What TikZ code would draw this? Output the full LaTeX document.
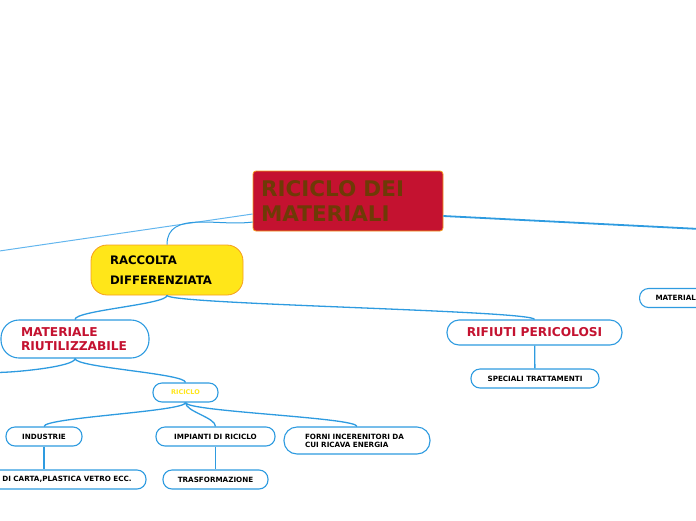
\documentclass[tikz,border=0pt]{standalone}
\usepackage{fontspec}
\setmainfont{DejaVu Sans}
\definecolor{mmred}{HTML}{C41230}
\definecolor{mmbrown}{HTML}{6E3A06}
\definecolor{mmorange}{HTML}{F59E1E}
\definecolor{mmyellow}{HTML}{FFE619}
\definecolor{mmblue}{HTML}{2E9BE0}
\definecolor{mmlight}{HTML}{63B6EE}

\begin{document}
\begin{tikzpicture}[x=1pt,y=1pt,
  topic/.style={draw=mmblue, line width=1.1pt, fill=white, rounded corners=9pt,
    inner sep=0pt, minimum height=19pt, font=\bfseries\fontsize{7.2}{8}\selectfont},
  bigtopic/.style={topic, rounded corners=12pt, minimum height=25pt,
    text=mmred, font=\bfseries\fontsize{12.2}{14.5}\selectfont},
  link/.style={draw=mmblue, line width=1.3pt},
  branch/.style={link, to path={.. controls +(0,-9) and +(0,9) .. (\tikztotarget)}}]
\useasboundingbox (0,0) rectangle (696,-520);
\clip (0,0) rectangle (696,-520);

% main topic
\node[draw=mmorange, line width=0.8pt, fill=mmred, rounded corners=3pt,
  minimum width=190, minimum height=60, inner xsep=8, text width=174, align=left,
  text=mmbrown, font=\bfseries\fontsize{21.5}{24.5}\selectfont]
  (root) at (348,-201) {RICICLO DEI\\MATERIALI};

% first level
\node[draw=mmorange, line width=0.8pt, fill=mmyellow, rounded corners=16pt,
  minimum width=152, minimum height=50, inner xsep=19, text width=114, align=left,
  font=\bfseries\fontsize{11.7}{20}\selectfont]
  (racc) at (167,-270) {RACCOLTA\\DIFFERENZIATA};
\node[topic, anchor=west, inner xsep=16, text width=60, align=left]
  (matr) at (639,-298) {MATERIAL};

% second level
\node[bigtopic, rounded corners=18pt, minimum width=148, minimum height=38,
  inner xsep=20, text width=108, align=left]
  (riut) at (75,-339) {MATERIALE\\RIUTILIZZABILE};
\node[bigtopic, minimum width=175] (peric) at (534.5,-332.5) {RIFIUTI PERICOLOSI};

% third level
\node[topic, minimum width=128] (spec) at (535,-378.5) {SPECIALI TRATTAMENTI};
\node[topic, minimum width=65, text=mmyellow, font=\bfseries\fontsize{6.5}{8}\selectfont]
  (ricic) at (185.5,-392.5) {RICICLO};
\node[topic, minimum width=76] (indu) at (44,-436.5) {INDUSTRIE};
\node[topic, minimum width=119] (impi) at (215.5,-436.5) {IMPIANTI DI RICICLO};
\node[topic, rounded corners=13pt, minimum width=146, minimum height=27,
  inner xsep=21, text width=104, align=left]
  (forni) at (357,-440.5) {FORNI INCERENITORI DA\\CUI RICAVA ENERGIA};
\node[topic, minimum width=158] (carta) at (67,-479.5) {DI CARTA,PLASTICA VETRO ECC.};
\node[topic, minimum width=105] (trasf) at (215.5,-479.5) {TRASFORMAZIONE};

% loose ends
\coordinate (offleft) at (-4,-251.5);
\coordinate (offright) at (700,-229);
\coordinate (offriut) at (-4,-372.5);

% connectors
\draw[mmlight, line width=1pt] ([yshift=-13]root.west) -- (offleft);
\draw[link, line width=1.8pt] ([yshift=-15]root.east) -- (offright);
\draw[link, line width=1pt] ([yshift=-21]root.west) to[out=188,in=90] (racc.north);
\draw[branch] (racc.south) to (riut.north);
\draw[branch] (racc.south) to (peric.north);
\draw[link] (riut.south) .. controls +(0,-8) and +(20,0) .. (offriut);
\draw[branch] (riut.south) to (ricic.north);
\draw[branch] (ricic.south) to (indu.north);
\draw[branch] (ricic.south) to (impi.north);
\draw[branch] (ricic.south) to (forni.north);
\draw[link] (indu) -- (indu |- carta.north);
\draw[link] (impi) -- (trasf);
\draw[link] (peric) -- (spec);
\end{tikzpicture}
\end{document}
